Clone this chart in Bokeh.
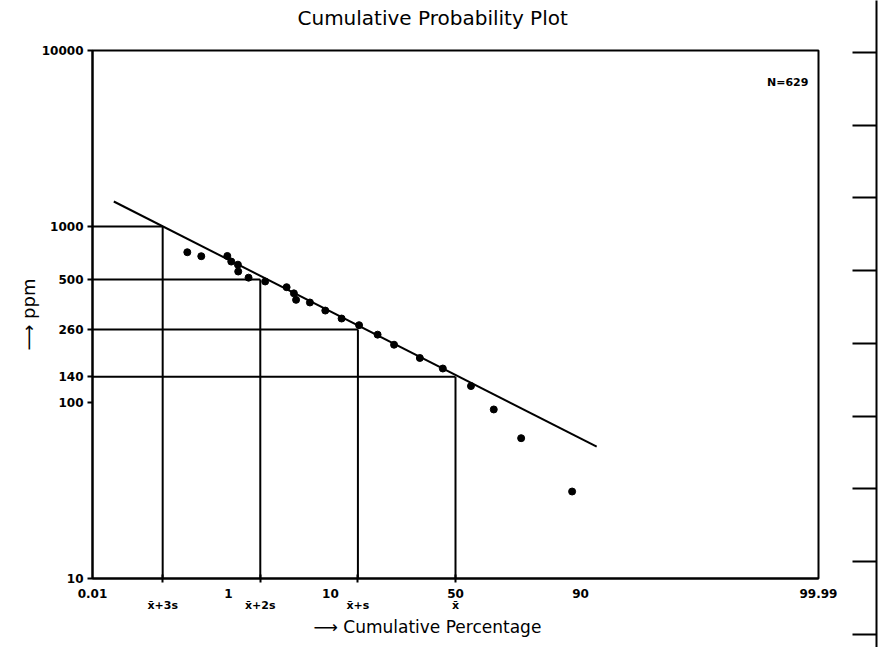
from statistics import NormalDist
from bokeh.plotting import figure
from bokeh.models import FixedTicker, LinearAxis, Label, Range1d, ColumnDataSource, Title
from bokeh.layouts import row, column
from bokeh.embed import file_html
from bokeh.resources import INLINE

# ---------------- data ----------------
title_text = "Cumulative Probability Plot"
x_title_text = "\u27f6 Cumulative  Percentage"
y_title_text = "\u27f6 ppm"
n_text = "N=629"

pct = [0.30, 0.46, 0.97, 1.08, 1.29, 1.30, 1.70, 2.56, 4.18, 4.89, 5.12, 6.79,
       9.11, 12.16, 16.16, 21.24, 26.45, 35.74, 44.83, 56.30, 65.25, 74.94, 88.39]
ppm = [714, 678, 680, 632, 607, 555, 512, 487, 452, 417, 383, 370,
       333, 300, 275, 243, 213, 179, 156, 124, 91.3, 62.7, 31.2]

fit_pct = [0.0232, 92.6]
fit_ppm = [1387, 56.2]

sigma_pct = [0.135, 2.275, 15.87, 50.0]
sigma_ppm = [1000, 500, 260, 140]
sigma_labels = ["x\u0304+3s", "x\u0304+2s", "x\u0304+s", "x\u0304"]

x_tick_pct = [0.01, 1, 10, 50, 90, 99.99]
x_tick_labels = ["0.01", "1", "10", "50", "90", "99.99"]

y_ticks = [10, 100, 140, 260, 500, 1000, 10000]
y_tick_labels = ["10", "100", "140", "260", "500", "1000", "10000"]

# neighbouring chart fragment (tick index positions of its axis)
neighbour_ticks = [0, 1, 2, 3, 4, 5, 6, 7, 8]

# ---------------- transform (normal probability scale) ----------------
nd = NormalDist()
def z(p):
    return nd.inv_cdf(p / 100.0)

x_lo, x_hi = z(x_tick_pct[0]), z(x_tick_pct[-1])
ymin, ymax = y_ticks[0], y_ticks[-1]

FONT = "DejaVu Sans"
INK = "black"

# ---------------- title strip ----------------
t = figure(width=838, height=38, output_backend="svg", toolbar_location=None,
           x_range=Range1d(0, 1), y_range=Range1d(0, 1),
           x_axis_location=None, y_axis_location=None,
           min_border_left=92, min_border_right=20, min_border_top=0,
           min_border_bottom=0)
t.xgrid.visible = False
t.ygrid.visible = False
t.outline_line_color = None
t.title.text = title_text
t.title.align = "left"
t.title.offset = 205
t.title.vertical_align = "top"
t.title.standoff = 14
t.title.text_font = FONT
t.title.text_font_style = "normal"
t.title.text_font_size = "20px"
t.title.text_color = INK

# ---------------- main plot ----------------
p = figure(width=838, height=609, output_backend="svg", toolbar_location=None,
           title=None,
           x_range=Range1d(x_lo, x_hi), y_range=Range1d(ymin, ymax),
           y_axis_type="log", x_axis_location=None,
           min_border_left=92, min_border_right=20, min_border_top=12,
           min_border_bottom=69)
p.xgrid.visible = False
p.ygrid.visible = False
p.outline_line_color = "black"
p.outline_line_width = 2
p.background_fill_color = "white"
p.border_fill_color = "white"

# y axis
ya = p.yaxis[0]
ya.ticker = FixedTicker(ticks=y_ticks, minor_ticks=[])
ya.major_label_overrides = {t_: l for t_, l in zip(y_ticks, y_tick_labels)}
ya.major_tick_out = 5
ya.major_tick_in = 0
ya.minor_tick_out = 0
ya.minor_tick_in = 0
ya.major_tick_line_width = 2
ya.axis_line_width = 2
ya.major_label_text_font = FONT
ya.major_label_text_font_style = "bold"
ya.major_label_text_font_size = "12px"
ya.major_label_text_color = INK
ya.major_label_standoff = 4
ya.axis_label = y_title_text
ya.axis_label_text_font = FONT
ya.axis_label_text_font_style = "normal"
ya.axis_label_text_font_size = "18px"
ya.axis_label_text_color = INK
ya.axis_label_standoff = 0

# x axis A: percentage labels, sigma tick marks as minor ticks
sig_z = [z(v) for v in sigma_pct]
tick_z = [z(v) for v in x_tick_pct]
xa = LinearAxis(ticker=FixedTicker(ticks=tick_z, minor_ticks=sig_z))
xa.major_label_overrides = {t_: l for t_, l in zip(tick_z, x_tick_labels)}
xa.major_tick_out = 0
xa.major_tick_in = 0
xa.minor_tick_out = 4
xa.minor_tick_in = 4
xa.minor_tick_line_width = 2
xa.axis_line_width = 2
xa.major_label_text_font = FONT
xa.major_label_text_font_style = "bold"
xa.major_label_text_font_size = "12px"
xa.major_label_text_color = INK
xa.major_label_standoff = 6
p.add_layout(xa, "below")

# x axis B: sigma labels
xb = LinearAxis(ticker=FixedTicker(ticks=sig_z, minor_ticks=[]))
xb.major_label_overrides = {t_: l for t_, l in zip(sig_z, sigma_labels)}
xb.axis_line_color = None
xb.major_tick_line_color = None
xb.minor_tick_line_color = None
xb.major_label_text_font = FONT
xb.major_label_text_font_style = "bold"
xb.major_label_text_font_size = "11px"
xb.major_label_text_color = INK
xb.major_label_standoff = -8
p.add_layout(xb, "below")

# x axis title as a below-title (allows horizontal offset)
xt = Title(text=x_title_text, align="left", offset=221, vertical_align="top",
           standoff=4, text_font=FONT, text_font_style="normal",
           text_font_size="17px", text_color=INK)
p.add_layout(xt, "below")

# reference lines (x-bar + k s)
sig_src = ColumnDataSource(dict(
    x=sig_z, y=sigma_ppm,
    x0=[x_lo] * len(sig_z), y0=[ymin] * len(sig_z)))
p.segment(x0="x0", y0="y", x1="x", y1="y", source=sig_src,
          line_color="black", line_width=2)
p.segment(x0="x", y0="y0", x1="x", y1="y", source=sig_src,
          line_color="black", line_width=2)

# fitted line
p.line([z(v) for v in fit_pct], fit_ppm, line_color="black", line_width=2)

# data points
p.scatter([z(v) for v in pct], ppm, size=7, marker="circle",
          fill_color="black", line_color="black")

# N label
p.add_layout(Label(x=z(99.985), y=6600, text=n_text, text_font=FONT,
                   text_font_style="bold", text_font_size="11px",
                   text_color=INK, text_align="right", text_baseline="middle"))

# ---------------- neighbouring chart fragment at the right edge ----------------
q = figure(width=47, height=647, output_backend="svg", toolbar_location=None,
           x_range=Range1d(0, 1), y_range=Range1d(8.18, -0.715),
           x_axis_location=None, min_border_left=38, min_border_right=0,
           min_border_top=0, min_border_bottom=0)
q.frame_align = False
q.xgrid.visible = False
q.ygrid.visible = False
q.outline_line_color = None
qa = q.yaxis[0]
qa.ticker = FixedTicker(ticks=[], minor_ticks=neighbour_ticks)
qa.major_tick_out = 0
qa.major_tick_in = 0
qa.minor_tick_out = 24
qa.minor_tick_in = 0
qa.minor_tick_line_width = 2
qa.minor_tick_line_color = "black"
qa.axis_line_width = 2

layout = row(column(t, p), q)
open("out.html", "w").write(file_html(layout, INLINE))
